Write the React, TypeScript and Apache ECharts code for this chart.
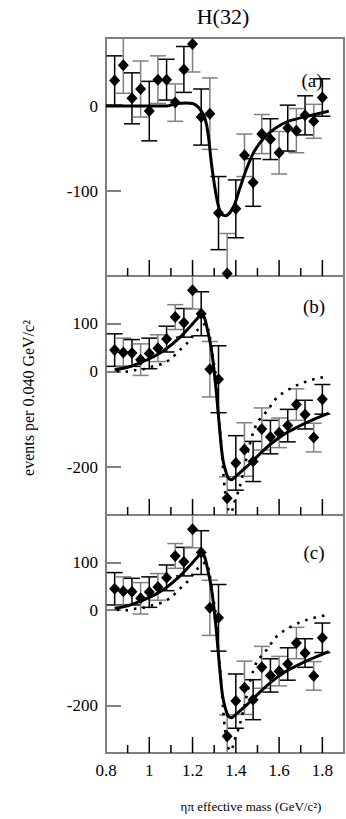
import { useEffect, useRef } from 'react';
import * as echarts from 'echarts';

// ---- data ----
const massBins = [0.84, 0.88, 0.92, 0.96, 1.0, 1.04, 1.08, 1.12, 1.16, 1.2, 1.24, 1.28, 1.32, 1.36, 1.4, 1.44, 1.48, 1.52, 1.56, 1.6, 1.64, 1.68, 1.72, 1.76, 1.8];

const eventsA = [30, 48, 9, 20, -6, 31, 31, 4, 43, 73, -13, -9, -126, -197, -121, -58, -90, -33, -39, -55, -26, -29, -11, -18, 10];
const errorsA = [29, 33, 30, 33, 35, 28, 24, 22, 27, 33, 33, 42, 43, 47, 34, 25, 28, 23, 24, 25, 27, 26, 23, 20, 22];

const eventsBC = [45, 40, 39, 25, 38, 49, 68, 114, 102, 170, 121, 5, -16, -265, -191, -163, -188, -120, -137, -128, -113, -69, -90, -138, -58];
const errorsBC = [34, 30, 28, 33, 32, 28, 27, 26, 30, 39, 46, 58, 70, 45, 57, 56, 42, 44, 35, 31, 34, 33, 30, 30, 31];

const fitA: [number, number][] = [
  [0.8, 0], [1.0, 0], [1.08, 0], [1.13, 3], [1.17, 3.5], [1.2, 3], [1.225, -1], [1.25, -10], [1.264, -21],
  [1.275, -39], [1.287, -67], [1.302, -94], [1.317, -115], [1.333, -127], [1.353, -129], [1.374, -125],
  [1.394, -116], [1.417, -98], [1.448, -75], [1.486, -53], [1.532, -37], [1.586, -25.5], [1.647, -17.6],
  [1.74, -11.5], [1.83, -6],
];

const fitSolidBC: [number, number][] = [
  [0.84, 4], [0.9, 9], [0.96, 19], [1.02, 31], [1.08, 48], [1.14, 71], [1.19, 95], [1.22, 110], [1.24, 119],
  [1.255, 113], [1.271, 83], [1.285, 52], [1.295, 20], [1.31, -43], [1.325, -120], [1.34, -183],
  [1.363, -221], [1.38, -226], [1.4, -219], [1.448, -200], [1.509, -173], [1.56, -152], [1.62, -132],
  [1.68, -117], [1.74, -104], [1.83, -87],
];

const fitDottedBC: [number, number][] = [
  [0.85, 1], [0.9, 0], [0.934, 3], [0.972, 5], [1.018, 11], [1.064, 17], [1.103, 28], [1.141, 45],
  [1.18, 62], [1.218, 85], [1.26, 100], [1.28, 72], [1.295, 25], [1.305, 0], [1.318, -79], [1.333, -155],
  [1.341, -205], [1.35, -250], [1.365, -288], [1.378, -296], [1.392, -275], [1.417, -243], [1.44, -200],
  [1.46, -160], [1.48, -128], [1.5, -106], [1.53, -90], [1.555, -76], [1.578, -60], [1.613, -46],
  [1.65, -36], [1.69, -27], [1.731, -20], [1.77, -15], [1.82, -10],
];

const xLabelValues = [0.8, 1.0, 1.2, 1.4, 1.6, 1.8];
const xMajorTicks = [1.0, 1.2, 1.4, 1.6, 1.8];
const xMinorTicks = [0.9, 1.1, 1.3, 1.5, 1.7];
const yTicksA = [0, -100];
const yTicksBC = [100, 0, -200];
const panelLetters = ['(a)', '(b)', '(c)'];

const SERIF = 'Liberation Serif, Times New Roman, serif';

export default function App() {
  const ref = useRef<HTMLDivElement>(null);

  useEffect(() => {
    if (!ref.current) return;
    const chart = echarts.init(ref.current, undefined, { renderer: 'svg' });

    const panels = [
      { top: 38, height: 238, min: -200, max: 80, ticks: yTicksA, values: eventsA, errors: errorsA, curves: [fitA], dotted: null as any },
      { top: 276, height: 239, min: -300, max: 200, ticks: yTicksBC, values: eventsBC, errors: errorsBC, curves: [fitSolidBC], dotted: fitDottedBC },
      { top: 515, height: 238, min: -300, max: 200, ticks: yTicksBC, values: eventsBC, errors: errorsBC, curves: [fitSolidBC], dotted: fitDottedBC },
    ];

    const grid: any[] = [];
    const xAxis: any[] = [];
    const yAxis: any[] = [];
    const series: any[] = [];

    panels.forEach((p, g) => {
      grid.push({
        left: 106, width: 238, top: p.top, height: p.height,
        show: true, borderColor: '#808080', borderWidth: 2, backgroundColor: 'transparent',
        outerBoundsMode: 'none',
      });
      xAxis.push({
        type: 'value', gridIndex: g, min: 0.8, max: 1.9, position: 'bottom',
        axisLine: { show: false, onZero: false }, splitLine: { show: false },
        axisTick: { show: false },
        axisLabel: {
          show: g === 2, customValues: xLabelValues, margin: 9,
          fontFamily: SERIF, fontSize: 17, color: '#000',
          formatter: (v: number) => String(Math.round(v * 10) / 10),
        },
      });
      yAxis.push({
        type: 'value', gridIndex: g, min: p.min, max: p.max, position: 'left',
        axisLine: { show: false, onZero: false }, splitLine: { show: false },
        axisTick: { show: true, inside: true, length: 15, customValues: p.ticks, lineStyle: { color: '#808080', width: 2 } },
        axisLabel: { customValues: p.ticks, margin: 8, fontFamily: SERIF, fontSize: 17, color: '#000' },
      });

      // x tick marks along the bottom edge (major long, minor short), placed by the axis scales
      const yBottom = p.min;
      series.push({
        type: 'custom', xAxisIndex: g, yAxisIndex: g, clip: false, z: 10, silent: true,
        data: [
          ...xMajorTicks.map((v) => [v, yBottom, 16]),
          ...xMinorTicks.map((v) => [v, yBottom, 8]),
        ],
        encode: { x: 0, y: 1 },
        renderItem: (_params: any, api: any) => {
          const pt = api.coord([api.value(0), yBottom]);
          const len = api.value(2);
          return {
            type: 'rect',
            shape: { x: pt[0] - 0.75, y: pt[1] - len, width: 1.5, height: len },
            style: { fill: '#000000' },
          };
        },
      });

      series.push({
        type: 'custom', xAxisIndex: g, yAxisIndex: g, clip: true, z: 1,
        data: massBins.map((m, i) => [m, p.values[i] - p.errors[i], p.values[i] + p.errors[i], i]),
        encode: { x: 0, y: [1, 2] },
        renderItem: (_params: any, api: any) => {
          const x = api.value(0);
          const lo = api.coord([x, api.value(1)]);
          const hi = api.coord([x, api.value(2)]);
          const hw = 8;
          const color = api.value(3) % 2 === 0 ? '#000000' : '#808080';
          const style = { stroke: color, lineWidth: 1.5 };
          return {
            type: 'group',
            children: [
              { type: 'line', shape: { x1: lo[0], y1: lo[1], x2: hi[0], y2: hi[1] }, style },
              { type: 'line', shape: { x1: lo[0] - hw, y1: lo[1], x2: lo[0] + hw, y2: lo[1] }, style },
              { type: 'line', shape: { x1: hi[0] - hw, y1: hi[1], x2: hi[0] + hw, y2: hi[1] }, style },
            ],
          };
        },
      });
      if (p.dotted) {
        series.push({
          type: 'line', xAxisIndex: g, yAxisIndex: g, data: p.dotted, showSymbol: false, smooth: 0.3, z: 2,
          lineStyle: { color: '#000', width: 2.6, type: [2.6, 6], cap: 'butt' },
        });
      }
      p.curves.forEach((c) => {
        series.push({
          type: 'line', xAxisIndex: g, yAxisIndex: g, data: c, showSymbol: false, smooth: 0.3, z: 3,
          lineStyle: { color: '#000', width: 3 },
        });
      });
      series.push({
        type: 'scatter', xAxisIndex: g, yAxisIndex: g, z: 4,
        data: massBins.map((m, i) => [m, p.values[i]]),
        symbol: 'diamond', symbolSize: [11, 12],
        itemStyle: { color: '#000', opacity: 1 },
      });
    });

    const textStyle = (text: string, size: number) => ({
      text, fontFamily: SERIF, fontSize: size, fill: '#000',
      align: 'center', verticalAlign: 'middle', textAlign: 'center', textVerticalAlign: 'middle',
    });

    const texts: any[] = [
      { type: 'text', x: 223, y: 16, style: textStyle('H(32)', 22) },
      { type: 'text', x: 312, y: 80, style: textStyle(panelLetters[0], 19) },
      { type: 'text', x: 314, y: 306, style: textStyle(panelLetters[1], 19) },
      { type: 'text', x: 314, y: 552, style: textStyle(panelLetters[2], 19) },
      { type: 'text', x: 28, y: 398, rotation: Math.PI / 2, style: textStyle('events per 0.040 GeV/c²', 16) },
      { type: 'text', x: 251, y: 806, style: textStyle('ηπ effective mass (GeV/c²)', 13) },
    ];

    chart.setOption({
      animation: false,
      backgroundColor: '#fff',
      grid, xAxis, yAxis, series, graphic: texts,
    });

    return () => chart.dispose();
  }, []);

  return (
    <div
      ref={ref}
      style={{ position: 'fixed', left: 0, top: 0, width: 346, height: 819, background: '#fff' }}
    />
  );
}
